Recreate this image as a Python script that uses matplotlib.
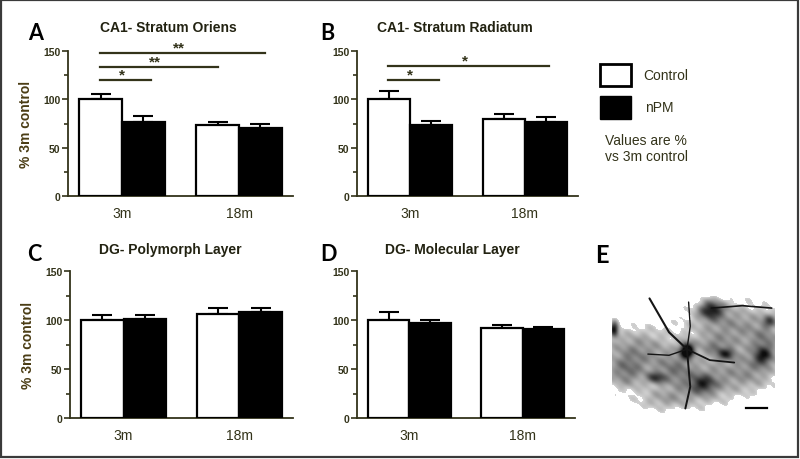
import numpy as np
import matplotlib
matplotlib.use('Agg')
from matplotlib import pyplot as plt
from matplotlib.patches import Rectangle
from matplotlib.ticker import MultipleLocator

plt.rcParams['font.family'] = ['Liberation Sans', 'DejaVu Sans']

# data (% of 3m control), mean and upper error
groups = ['3m', '18m']
titles = ['CA1- Stratum Oriens', 'CA1- Stratum Radiatum',
          'DG- Polymorph Layer', 'DG- Molecular Layer']
letters = ['A', 'B', 'C', 'D']
control_mean = [[100, 73], [100, 80], [100, 105.7], [100, 91.7]]
control_err = [[6, 4], [8.5, 5], [4.7, 6.5], [8.5, 3.4]]
npm_mean = [[77, 70.7], [73.3, 77], [100.6, 108], [96.5, 90.7]]
npm_err = [[6, 4.3], [4.7, 5], [4.1, 4.2], [3.7, 2]]

# significance brackets: (x0, x1, y, label)
sig_A = [(-0.19, 0.25, 119.5, '*'), (-0.19, 0.82, 133, '**'), (-0.19, 1.22, 147.6, '**')]
sig_B = [(-0.19, 0.25, 119.5, '*'), (-0.19, 1.21, 134.8, '*')]
sigs = [sig_A, sig_B, [], []]

ink = '#33331a'
W, H = 800, 460

def px_axes(left, top, right, bottom):
    return fig.add_axes([left / W, 1 - bottom / H, (right - left) / W, (bottom - top) / H])

fig = plt.figure(figsize=(8, 4.6), dpi=100)

boxes = [(68, 52, 293, 197), (357, 52, 578, 197), (70, 272, 293, 419), (357, 272, 575, 419)]
letter_pos = [(28, 40), (320, 40), (27, 261), (320, 261)]
title_x = [168, 455, 170, 452]
title_y = [28, 28, 250, 250]

bw = 0.367
for i in range(4):
    ax = px_axes(*boxes[i])
    x = np.arange(len(groups))
    ax.bar(x - bw / 2, control_mean[i], bw, color='white', edgecolor='black', lw=1.6, zorder=3)
    ax.bar(x + bw / 2, npm_mean[i], bw, color='black', edgecolor='black', lw=1.6, zorder=3)
    ax.errorbar(x - bw / 2, control_mean[i], yerr=[np.zeros(2), control_err[i]], fmt='none',
                ecolor='black', elinewidth=1.5, capsize=7.5, capthick=1.5, zorder=2)
    ax.errorbar(x + bw / 2, npm_mean[i], yerr=[np.zeros(2), npm_err[i]], fmt='none',
                ecolor='black', elinewidth=1.5, capsize=7.5, capthick=1.5, zorder=2)
    ax.set_xlim(-0.4615, 1.4615)
    ax.set_ylim(0, 150)
    ax.set_xticks(x)
    ax.set_xticklabels(groups, fontsize=10, color=ink)
    ax.tick_params(axis='x', length=0, pad=7)
    ax.yaxis.set_major_locator(MultipleLocator(50))
    ax.yaxis.set_minor_locator(MultipleLocator(25))
    ax.tick_params(axis='y', which='major', length=4, width=1.2, color=ink, labelsize=7.5, labelcolor=ink, pad=1.5)
    ax.tick_params(axis='y', which='minor', length=3, width=1.2, color=ink)
    for lab in ax.get_yticklabels():
        lab.set_fontweight('bold')
    for s in ['top', 'right']:
        ax.spines[s].set_visible(False)
    for s in ['left', 'bottom']:
        ax.spines[s].set_color(ink)
        ax.spines[s].set_linewidth(1.3)
    if i in (0, 2):
        ax.set_ylabel('% 3m control', fontsize=10, fontweight='bold', color='#4a3c14')
        ax.yaxis.set_label_coords(-0.155, 0.5)
    for x0, x1, y, lab in sigs[i]:
        ax.plot([x0, x1], [y, y], color=ink, lw=1.6, clip_on=False)
        ax.text((x0 + x1) / 2 - 0.03, y - 1.5, lab, ha='center', va='bottom', fontsize=11,
                fontweight='bold', color=ink)
    fig.text(title_x[i] / W, 1 - title_y[i] / H, titles[i], ha='center', va='center',
             fontsize=10, fontweight='bold', color='#222211')
    fig.text(letter_pos[i][0] / W, 1 - letter_pos[i][1] / H, letters[i], ha='left', va='baseline',
             fontsize=15.5, fontweight='bold', family=['Lato', 'DejaVu Sans'])

# legend
lax = fig.add_axes([0, 0, 1, 1], facecolor='none')
lax.set_xlim(0, W)
lax.set_ylim(H, 0)
lax.axis('off')
lax.add_patch(Rectangle((600, 64.5), 31, 22, facecolor='white', edgecolor='black', lw=2))
lax.add_patch(Rectangle((600, 97), 31, 23, facecolor='black', edgecolor='black', lw=1))
lax.text(643, 75.5, 'Control', fontsize=10, color=ink, va='center')
lax.text(645, 108, 'nPM', fontsize=10, color=ink, va='center')
lax.text(605, 141.5, 'Values are %', fontsize=10, color=ink, va='center')
lax.text(605, 157, 'vs 3m control', fontsize=10, color=ink, va='center')
lax.text(595, 263, 'E', fontsize=17, fontweight='bold', va='baseline', family=['Lato', 'DejaVu Sans'])

# panel E: sketch of the stained neuron micrograph
blobs = [  # x, y, sx, sy, amplitude
    (0.15, 0.45, 0.16, 0.14, 0.45), (0.08, 0.65, 0.09, 0.1, 0.4), (0.75, 0.25, 0.22, 0.15, 0.45),
    (0.55, 0.72, 0.15, 0.14, 0.45), (0.86, 0.62, 0.13, 0.13, 0.4), (0.3, 0.86, 0.12, 0.07, 0.3),
    (0.38, 0.6, 0.08, 0.1, 0.3), (0.62, 0.42, 0.07, 0.06, 0.25), (0.95, 0.4, 0.06, 0.1, 0.3),
    (0.46, 0.45, 0.03, 0.045, 1.1), (0.61, 0.11, 0.055, 0.055, 0.75), (0.27, 0.68, 0.04, 0.035, 0.55),
    (0.56, 0.73, 0.05, 0.05, 0.45), (0.7, 0.48, 0.04, 0.035, 0.5), (0.93, 0.5, 0.04, 0.05, 0.5),
    (0.97, 0.2, 0.03, 0.04, 0.45), (0.01, 0.27, 0.02, 0.05, 0.8),
]
ny, nx = 121, 163
yy, xx = np.mgrid[0:1:ny * 1j, 0:1:nx * 1j]
img = np.zeros((ny, nx))
for bx, by, sx, sy, a in blobs:
    img += a * np.exp(-((xx - bx) ** 2 / (2 * sx ** 2) + (yy - by) ** 2 / (2 * sy ** 2)))
img += 0.06 * (np.sin(53 * xx + 31 * yy) + np.sin(47 * yy - 23 * xx + 1.3) + np.sin(71 * xx - 61 * yy + 0.7)) / 2
img = np.where(img < 0.18, 0, img)
img = np.clip(img, 0, 1)
iax = px_axes(612, 297, 775, 418)
iax.imshow(img, cmap='gray_r', vmin=0, vmax=1.05, extent=[0, 1, 1, 0], aspect='auto', interpolation='bilinear')
neurites = [
    ([0.23, 0.35, 0.46], [0.02, 0.3, 0.44], 1.5),
    ([0.46, 0.48, 0.47], [0.44, 0.25, 0.05], 1.0),
    ([0.46, 0.6, 0.75], [0.44, 0.53, 0.55], 1.3),
    ([0.46, 0.47, 0.48, 0.45], [0.44, 0.6, 0.75, 0.93], 1.4),
    ([0.46, 0.35, 0.22], [0.44, 0.49, 0.48], 1.0),
    ([0.61, 0.8, 0.98], [0.1, 0.08, 0.1], 1.2),
]
for nxs, nys, lw in neurites:
    iax.plot(nxs, nys, color='#151515', lw=lw, solid_capstyle='round')
iax.plot([0.82, 0.95], [0.925, 0.925], color='black', lw=1.6)
iax.set_xlim(0, 1)
iax.set_ylim(1, 0)
iax.axis('off')

# outer frame
fig.patches.append(Rectangle((0.5 / W, 2.3 / H), 797 / W, 457 / H, transform=fig.transFigure,
                             fill=False, edgecolor='#3a3a3a', lw=1.6))

fig.savefig('out.png', dpi=100)
